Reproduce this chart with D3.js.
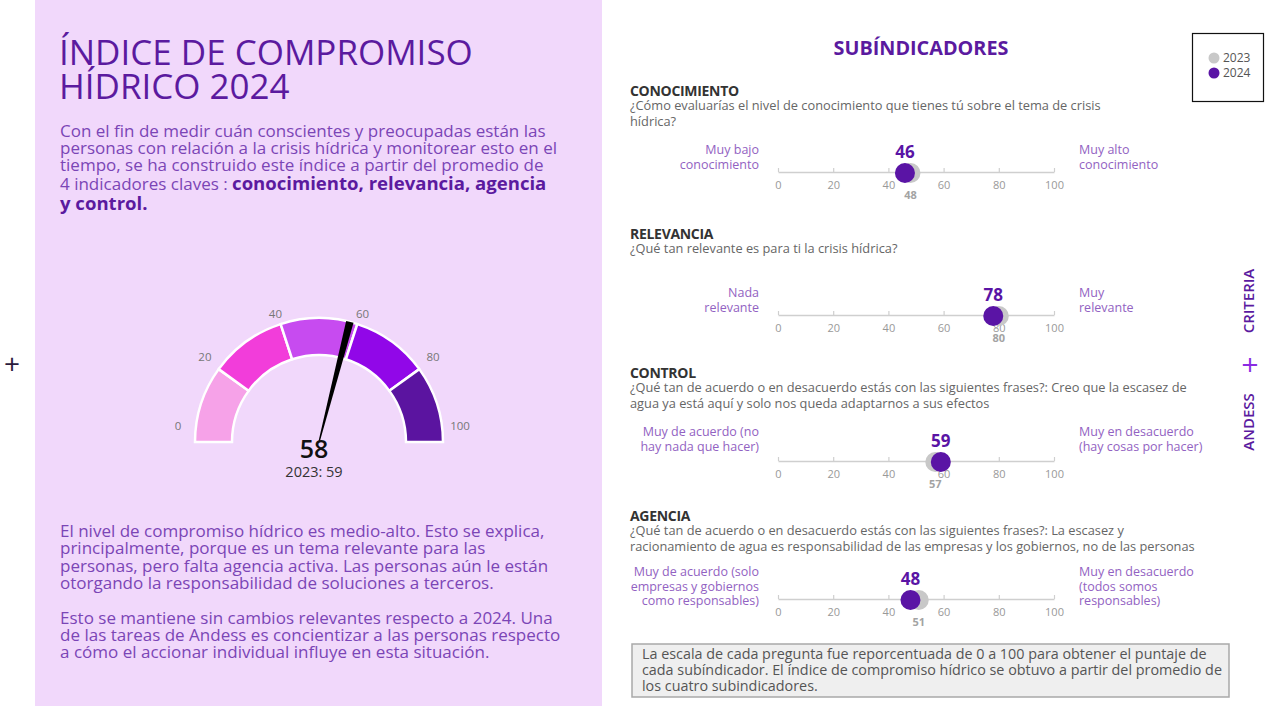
<!DOCTYPE html>
<html>
<head>
<meta charset="utf-8">
<script src="https://cdn.jsdelivr.net/npm/d3@7"></script>
<style>
  body { margin: 0; background: #fff; }
  svg { display: block; font-family: "Open Sans", sans-serif; }
</style>
</head>
<body>
<svg id="chart" width="1269" height="706"></svg>
<script>
// data ---------------------------------------------------------------
var gaugeBreaks = [0, 20, 40, 60, 80, 100];
var gaugeColors = ["#f6a2e8", "#f23dda", "#c74bf0", "#9107e8", "#5b14a0"];
var index2024 = 58;
var index2023 = 59;

var subNames = ["CONOCIMIENTO", "RELEVANCIA", "CONTROL", "AGENCIA"];
var subQuestions = [
	["¿Cómo evaluarías el nivel de conocimiento que tienes tú sobre el tema de crisis", "hídrica?"],
	["¿Qué tan relevante es para ti la crisis hídrica?"],
	["¿Qué tan de acuerdo o en desacuerdo estás con las siguientes frases?: Creo que la escasez de", "agua ya está aquí y solo nos queda adaptarnos a sus efectos"],
	["¿Qué tan de acuerdo o en desacuerdo estás con las siguientes frases?: La escasez y", "racionamiento de agua es responsabilidad de las empresas y los gobiernos, no de las personas"]
];
var subLow = [
	["Muy bajo", "conocimiento"],
	["Nada", "relevante"],
	["Muy de acuerdo (no", "hay nada que hacer)"],
	["Muy de acuerdo (solo", "empresas y gobiernos", "como responsables)"]
];
var subHigh = [
	["Muy alto", "conocimiento"],
	["Muy", "relevante"],
	["Muy en desacuerdo", "(hay cosas por hacer)"],
	["Muy en desacuerdo", "(todos somos", "responsables)"]
];
var values2024 = [46, 78, 59, 48];
var values2023 = [48, 80, 57, 51];
var axisTicks = [0, 20, 40, 60, 80, 100];
var years = ["2023", "2024"];

var titleLines = ["ÍNDICE DE COMPROMISO", "HÍDRICO 2024"];
var introLines = [
	[["Con el fin de medir cuán conscientes y preocupadas están las", 0]],
	[["personas con relación a la crisis hídrica y monitorear esto en el", 0]],
	[["tiempo, se ha construido este índice a partir del promedio de", 0]],
	[["4 indicadores claves : ", 0], ["conocimiento, relevancia, agencia", 1]],
	[["y control.", 1]]
];
var outroLines = [
	"El nivel de compromiso hídrico es medio-alto. Esto se explica,",
	"principalmente, porque es un tema relevante para las",
	"personas, pero falta agencia activa. Las personas aún le están",
	"otorgando la responsabilidad de soluciones a terceros.",
	"",
	"Esto se mantiene sin cambios relevantes respecto a 2024. Una",
	"de las tareas de Andess es concientizar a las personas respecto",
	"a cómo el accionar individual influye en esta situación."
];
var noteLines = [
	"La escala de cada pregunta fue reporcentuada de 0 a 100 para obtener el puntaje de",
	"cada subíndicador. El índice de compromiso hídrico se obtuvo a partir del promedio de",
	"los cuatro subindicadores."
];

// colours ------------------------------------------------------------
var purpleDark = "#5b1a9f";
var purpleText = "#7b45b6";
var purpleLabel = "#9262c2";
var dot2024 = "#5a14a5";
var dot2023 = "#c8c8c8";

var svg = d3.select("#chart");

// helper: scale a block's font so its reference line gets the target width
function fitBlock(sel, refNode, target) {
	var w = refNode.getComputedTextLength();
	var k = target / w;
	sel.each(function () {
		var s = d3.select(this);
		s.attr("font-size", parseFloat(s.attr("font-size")) * k);
	});
	return k;
}

// left panel ---------------------------------------------------------
svg.append("rect").attr("x", 35).attr("y", 0).attr("width", 567).attr("height", 706).attr("fill", "#f1d8fb");

svg.append("text").attr("x", 12).attr("y", 374).attr("text-anchor", "middle")
	.attr("font-size", 28).attr("font-weight", 400).attr("fill", "#2a1b3d").text("+");

var title = svg.append("g").selectAll("text").data(titleLines).enter().append("text")
	.attr("x", 59).attr("y", (d, i) => 65 + i * 34)
	.attr("font-size", 34).attr("font-weight", 500).attr("fill", purpleDark)
	.text(d => d);
fitBlock(title, title.nodes()[0], 414);

var intro = svg.append("g").selectAll("text").data(introLines).enter().append("text")
	.attr("x", 60).attr("y", (d, i) => [137, 154, 171, 190, 210][i])
	.attr("fill", purpleText).attr("font-size", 16.5);
intro.selectAll("tspan").data(d => d).enter().append("tspan")
	.attr("font-weight", d => d[1] ? 700 : 400)
	.attr("fill", d => d[1] ? purpleDark : purpleText)
	.attr("font-size", d => d[1] ? 18 : 16.5)
	.text(d => d[0]);
fitBlock(intro.selectAll("tspan"), intro.nodes()[0], 486);

var outro = svg.append("g").selectAll("text").data(outroLines).enter().append("text")
	.attr("x", 60).attr("y", (d, i) => 537 + i * 17.3)
	.attr("font-size", 16).attr("fill", purpleText)
	.text(d => d);
fitBlock(outro, outro.nodes()[0], 485);

// gauge --------------------------------------------------------------
var cx = 319, cy = 442, rIn = 87, rOut = 124;
var ang = d3.scaleLinear().domain([0, 100]).range([-Math.PI / 2, Math.PI / 2]);
var gauge = svg.append("g").attr("transform", `translate(${cx},${cy})`);

var bands = d3.pairs(gaugeBreaks);
var arc = d3.arc().innerRadius(rIn).outerRadius(rOut)
	.startAngle(d => ang(d[0])).endAngle(d => ang(d[1]));

gauge.selectAll(".band").data(bands).enter().append("path")
	.attr("class", "band")
	.attr("d", arc)
	.attr("fill", (d, i) => gaugeColors[i])
	.attr("stroke", "#fff").attr("stroke-width", 2.5);

gauge.selectAll(".glabel").data(gaugeBreaks).enter().append("text")
	.attr("class", "glabel")
	.attr("x", d => 141 * Math.sin(ang(d)))
	.attr("y", d => -118 * Math.cos(ang(d)) - 16)
	.attr("dy", "0.35em")
	.attr("text-anchor", "middle")
	.attr("font-size", 11.5).attr("fill", "#777")
	.text(d => d);

// needle: thin at the centre, wider at the rim
var a = ang(index2024);
var ux = Math.sin(a), uy = -Math.cos(a), px = Math.cos(a), py = Math.sin(a);
var needle = [
	[px * 0.6, py * 0.6],
	[ux * rOut + px * 3.8, uy * rOut + py * 3.8],
	[ux * rOut - px * 3.8, uy * rOut - py * 3.8],
	[-px * 0.6, -py * 0.6]
];
gauge.append("path").attr("d", d3.line()(needle) + "Z").attr("fill", "#000");

gauge.append("text").attr("x", -5).attr("y", 16).attr("text-anchor", "middle")
	.attr("font-size", 25).attr("font-weight", 600).attr("fill", "#111")
	.text(index2024);
gauge.append("text").attr("x", -5).attr("y", 35).attr("text-anchor", "middle")
	.attr("font-size", 14.5).attr("fill", "#333")
	.text("2023: " + index2023);

// subindicadores -----------------------------------------------------
var subTitle = svg.append("text").attr("x", 921).attr("y", 55).attr("text-anchor", "middle")
	.attr("font-size", 18).attr("font-weight", 700).attr("fill", purpleDark)
	.text("SUBÍNDICADORES");
fitBlock(subTitle, subTitle.node(), 175);

var x = d3.scaleLinear().domain([0, 100]).range([778, 1054]);
var headerY = [96, 239, 378, 521];
var axisY = [172, 315, 461, 599];
var sideY = [-18, -18, -25, -23];

var rows = svg.selectAll(".row").data(subNames).enter().append("g").attr("class", "row");

rows.append("text")
	.attr("x", 630).attr("y", (d, i) => headerY[i])
	.attr("font-size", 14).attr("font-weight", 700).attr("fill", "#333")
	.attr("letter-spacing", -0.3)
	.text(d => d);

var qText = rows.selectAll(".q").data((d, i) => subQuestions[i].map(t => [t, i])).enter().append("text")
	.attr("class", "q")
	.attr("x", 630).attr("y", (d, j) => headerY[d[1]] + 14 + j * 15.5)
	.attr("font-size", 12.5).attr("fill", "#666")
	.text(d => d[0]);
fitBlock(qText, qText.nodes()[0], 471);

rows.selectAll(".lo").data((d, i) => subLow[i].map(t => [t, i])).enter().append("text")
	.attr("class", "lo")
	.attr("x", 759).attr("y", (d, j) => axisY[d[1]] + sideY[d[1]] + j * 14.5)
	.attr("text-anchor", "end")
	.attr("font-size", 12.5).attr("fill", purpleLabel)
	.text(d => d[0]);

rows.selectAll(".hi").data((d, i) => subHigh[i].map(t => [t, i])).enter().append("text")
	.attr("class", "hi")
	.attr("x", 1079).attr("y", (d, j) => axisY[d[1]] + sideY[d[1]] + j * 14.5)
	.attr("font-size", 12.5).attr("fill", purpleLabel)
	.text(d => d[0]);

rows.each(function (d, i) {
	var g = d3.select(this);
	var ax = g.append("g").attr("transform", `translate(0,${axisY[i]})`)
		.call(d3.axisBottom(x).tickValues(axisTicks).tickSizeInner(-4).tickSizeOuter(0).tickPadding(9));
	ax.select(".domain").attr("stroke", "#cfcfcf").attr("stroke-width", 1.5);
	ax.selectAll(".tick line").attr("stroke", "#cfcfcf").attr("stroke-width", 1.2);
	ax.selectAll(".tick text").attr("fill", "#999").attr("font-size", 11)
		.attr("font-family", "Open Sans, sans-serif");

	g.append("circle").attr("cx", x(values2023[i])).attr("cy", axisY[i] + 1).attr("r", 10).attr("fill", dot2023);
	g.append("circle").attr("cx", x(values2024[i])).attr("cy", axisY[i] + 1).attr("r", 10).attr("fill", dot2024);

	g.append("text").attr("x", x(values2024[i])).attr("y", axisY[i] - 14)
		.attr("text-anchor", "middle").attr("font-size", 17).attr("font-weight", 700)
		.attr("fill", dot2024).text(values2024[i]);
	g.append("text").attr("x", x(values2023[i])).attr("y", axisY[i] + 27)
		.attr("text-anchor", "middle").attr("font-size", 11).attr("font-weight", 700)
		.attr("fill", "#a3a3a3").text(values2023[i]);
});

// legend -------------------------------------------------------------
var legend = svg.append("g");
legend.append("rect").attr("x", 1192.5).attr("y", 33.5).attr("width", 71).attr("height", 68)
	.attr("fill", "#fff").attr("stroke", "#111").attr("stroke-width", 1.2);
var li = legend.selectAll(".li").data(years).enter().append("g")
	.attr("transform", (d, i) => `translate(1214,${58 + i * 15})`);
li.append("circle").attr("r", 5.5).attr("fill", (d, i) => i ? dot2024 : dot2023);
li.append("text").attr("x", 9).attr("dy", "0.35em").attr("font-size", 12).attr("fill", "#555").text(d => d);

// brand --------------------------------------------------------------
var brand = svg.append("g").attr("transform", "translate(1249,360) rotate(-90)");
brand.append("text").attr("x", -62).attr("dy", "0.35em").attr("text-anchor", "middle")
	.attr("font-size", 15).attr("font-weight", 600).attr("fill", purpleDark).text("ANDESS");
brand.append("text").attr("x", -5).attr("dy", "0.35em").attr("text-anchor", "middle")
	.attr("font-size", 30).attr("font-weight", 400).attr("fill", "#8a2be2").text("+");
brand.append("text").attr("x", 59).attr("dy", "0.35em").attr("text-anchor", "middle")
	.attr("font-size", 15).attr("font-weight", 600).attr("fill", purpleDark).text("CRITERIA");

// note ---------------------------------------------------------------
svg.append("rect").attr("x", 632).attr("y", 644).attr("width", 597).attr("height", 53)
	.attr("fill", "#efefef").attr("stroke", "#a9a9a9").attr("stroke-width", 1.5);
var note = svg.append("g").selectAll("text").data(noteLines).enter().append("text")
	.attr("x", 642).attr("y", (d, i) => 659 + i * 16)
	.attr("font-size", 13.5).attr("fill", "#555")
	.text(d => d);
fitBlock(note, note.nodes()[0], 565);
</script>
</body>
</html>
